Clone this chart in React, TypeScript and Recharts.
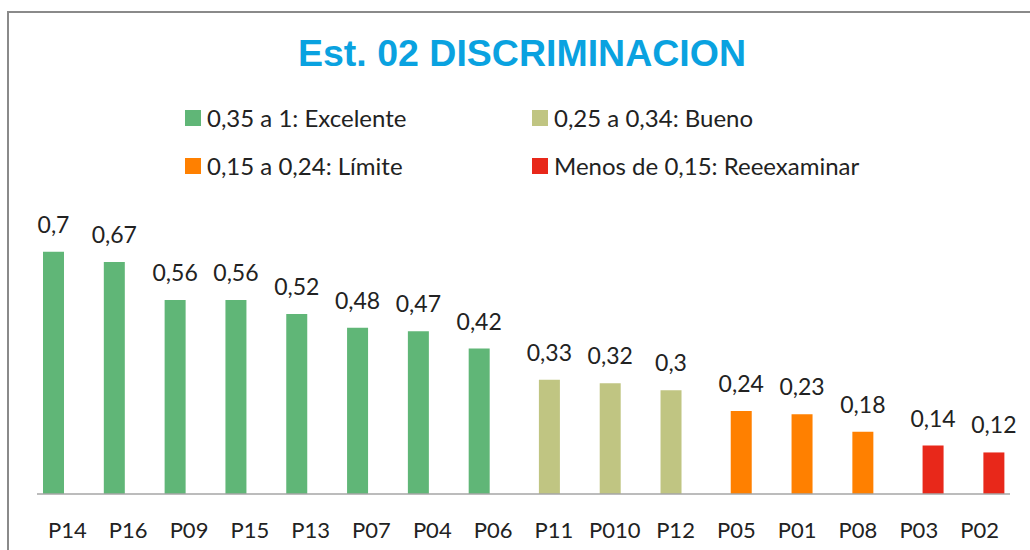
import React from "react";
import { BarChart, Bar, XAxis, YAxis, LabelList } from "recharts";

const categories = ["P14", "P16", "P09", "P15", "P13", "P07", "P04", "P06", "P11", "P010", "P12", "P05", "P01", "P08", "P03", "P02"];
const excelente = [0.7, 0.67, 0.56, 0.56, 0.52, 0.48, 0.47, 0.42, null, null, null, null, null, null, null, null];
const bueno = [null, null, null, null, null, null, null, null, 0.33, 0.32, 0.3, null, null, null, null, null];
const limite = [null, null, null, null, null, null, null, null, null, null, null, 0.24, 0.23, 0.18, null, null];
const reexaminar = [null, null, null, null, null, null, null, null, null, null, null, null, null, null, 0.14, 0.12];

const seriesNames = ["0,35 a 1: Excelente", "0,25 a 0,34: Bueno", "0,15 a 0,24: Límite", "Menos de 0,15: Reeexaminar"];
const seriesKeys = ["exc", "bue", "lim", "ree"];
const seriesColors = ["#60B677", "#C0C582", "#FF8000", "#E8281A"];

const FONT = "Lato, 'Open Sans', sans-serif";

const data = categories.map((name, i) => ({
  name,
  exc: excelente[i],
  bue: bueno[i],
  lim: limite[i],
  ree: reexaminar[i],
}));

// comma decimals, label only where the bar exists
const ValueLabel: React.FC<any> = (p) => {
  const { x = 0, y = 0, width = 0, value } = p;
  if (value === null || value === undefined) return null;
  return (
    <text
      x={x + width / 2}
      y={y - 19}
      fontSize={23}
      fontFamily={FONT}
      fill="#222"
      textAnchor="middle"
    >
      {String(value).replace(".", ",")}
    </text>
  );
};

export default function App() {
  return (
    <div style={{ position: "fixed", left: 0, top: 0, width: 1030, height: 550, background: "#fff", overflow: "hidden" }}>
      <div
        style={{
          position: "absolute",
          left: 7,
          top: 11,
          width: 1040,
          height: 560,
          border: "2px solid #8a8a8a",
          boxSizing: "border-box",
        }}
      />
      <div
        style={{
          position: "absolute",
          left: 0,
          width: 1044,
          top: 32,
          textAlign: "center",
          fontFamily: "'Liberation Sans', Arial, sans-serif",
          fontWeight: "bold",
          fontSize: 37.5,
          color: "#0AA2E0",
        }}
      >
        Est. 02 DISCRIMINACION
      </div>
      {seriesNames.map((n, i) => (
        <div
          key={n}
          style={{
            position: "absolute",
            left: i % 2 === 0 ? 185 : 532,
            top: i < 2 ? 103 : 151,
            display: "flex",
            alignItems: "center",
            fontFamily: FONT,
            fontSize: 24,
            color: "#222",
            whiteSpace: "nowrap",
          }}
        >
          <span style={{ width: 16, height: 16, background: seriesColors[i], display: "inline-block", marginRight: 6 }} />
          {n}
        </div>
      ))}
      <div style={{ position: "absolute", left: 0, top: 0 }}>
        <BarChart
          width={1030}
          height={550}
          data={data}
          margin={{ top: 217, right: 20, left: 37, bottom: 0 }}
          barGap={-11.6}
          barCategoryGap={0}
        >
          <XAxis
            dataKey="name"
            height={56}
            tickLine={false}
            tickSize={0}
            tickMargin={28}
            axisLine={{ stroke: "#a6a6a6", strokeWidth: 1.5 }}
            tick={{ fontSize: 22, fontFamily: FONT, fill: "#222" }}
            interval={0}
          />
          <YAxis hide domain={[0, 0.8]} />
          {seriesKeys.map((k, i) => (
            <Bar key={k} dataKey={k} fill={seriesColors[i]} barSize={21} isAnimationActive={false}>
              <LabelList dataKey={k} content={<ValueLabel />} />
            </Bar>
          ))}
        </BarChart>
      </div>
    </div>
  );
}
